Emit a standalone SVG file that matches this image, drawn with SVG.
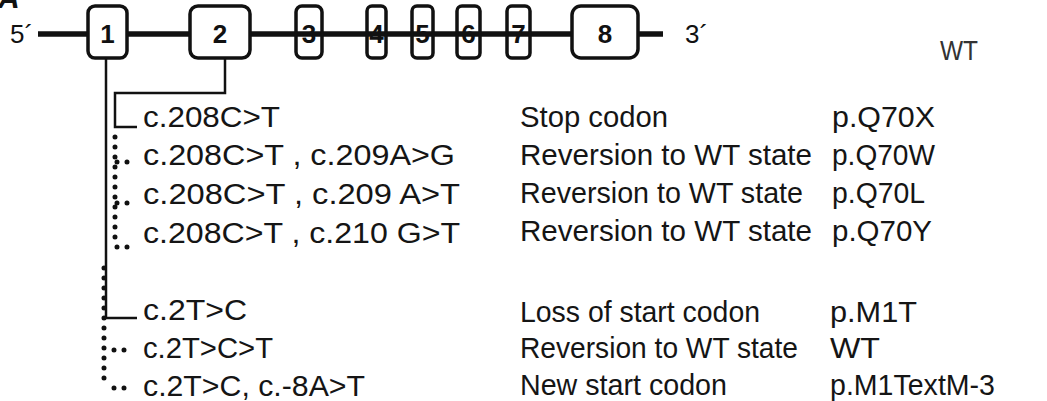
<svg xmlns="http://www.w3.org/2000/svg" width="1047" height="401" viewBox="0 0 1047 401">
<style>
  .t{font-family:"Liberation Sans",Arial,sans-serif;font-size:30px;fill:#151515}
  .num{font-family:"Liberation Sans",Arial,sans-serif;font-size:26px;font-weight:bold;fill:#111;text-anchor:middle}
  .end{font-family:"Liberation Sans",Arial,sans-serif;font-size:26px;fill:#111}
  .exon{stroke:#111;stroke-width:3.5;fill:#fff}
  .exon-n{stroke:#111;stroke-width:3.5;fill:none}
  .solid{stroke:#111;stroke-width:2.5;fill:none}
  .dots{stroke:#111;stroke-width:5;fill:none;stroke-linecap:round;stroke-dasharray:0 10}
</style>
<rect width="1047" height="401" fill="#fff"/>
<text x="-2" y="8" style="font-family:'Liberation Sans',Arial,sans-serif;font-size:30px;font-weight:bold;font-style:italic;fill:#111">A</text>
<text class="end" x="10" y="43">5´</text>
<text class="end" x="685" y="43">3´</text>
<line x1="38" y1="34" x2="663" y2="34" stroke="#111" stroke-width="5.5"/>
<g id="exon1"><rect class="exon" x="88" y="6" width="39" height="52" rx="7"/><text class="num" x="107.5" y="43">1</text></g>
<g id="exon2"><rect class="exon" x="190" y="6" width="60" height="52" rx="8"/><text class="num" x="220" y="43">2</text></g>
<g id="exon3"><rect class="exon-n" x="296" y="6" width="26" height="52" rx="6"/><text class="num" x="309" y="43">3</text></g>
<g id="exon4"><rect class="exon-n" x="367" y="6" width="19" height="52" rx="5"/><text class="num" x="376.5" y="43">4</text></g>
<g id="exon5"><rect class="exon-n" x="412" y="6" width="21" height="52" rx="5"/><text class="num" x="422.5" y="43">5</text></g>
<g id="exon6"><rect class="exon-n" x="457" y="6" width="23" height="52" rx="5"/><text class="num" x="468.5" y="43">6</text></g>
<g id="exon7"><rect class="exon-n" x="507" y="6" width="23" height="52" rx="5"/><text class="num" x="518.5" y="43">7</text></g>
<g id="exon8"><rect class="exon" x="572" y="6" width="66" height="52" rx="9"/><text class="num" x="605" y="43">8</text></g>
<text x="940" y="60" textLength="38" lengthAdjust="spacingAndGlyphs" style="font-family:'Liberation Sans',Arial,sans-serif;font-size:27px;fill:#333">WT</text>
<g id="connectors">
  <path class="solid" d="M225 58 V93 H115 V127 H137"/>
  <path class="dots" d="M115 137 V247"/>
  <path class="dots" d="M117 162 H137"/>
  <path class="dots" d="M117 203 H137"/>
  <path class="dots" d="M117 247 H137"/>
  <path class="solid" d="M106 58 V318 H137"/>
  <path class="dots" d="M104 268 V388"/>
  <path class="dots" d="M114 350 H134"/>
  <path class="dots" d="M114 388 H134"/>
</g>
<g id="mutations">
  <text class="t" x="143" y="127" textLength="137" lengthAdjust="spacingAndGlyphs">c.208C&gt;T</text>
  <text class="t" x="143" y="165" textLength="312" lengthAdjust="spacingAndGlyphs">c.208C&gt;T , c.209A&gt;G</text>
  <text class="t" x="143" y="204" textLength="317" lengthAdjust="spacingAndGlyphs">c.208C&gt;T , c.209 A&gt;T</text>
  <text class="t" x="143" y="243" textLength="317" lengthAdjust="spacingAndGlyphs">c.208C&gt;T , c.210 G&gt;T</text>
  <text class="t" x="143" y="320" textLength="104" lengthAdjust="spacingAndGlyphs">c.2T&gt;C</text>
  <text class="t" x="143" y="358" textLength="130" lengthAdjust="spacingAndGlyphs">c.2T&gt;C&gt;T</text>
  <text class="t" x="143" y="396" textLength="222" lengthAdjust="spacingAndGlyphs">c.2T&gt;C, c.-8A&gt;T</text>
</g>
<g id="effects">
  <text class="t" x="520" y="127" textLength="148" lengthAdjust="spacingAndGlyphs">Stop codon</text>
  <text class="t" x="520" y="165" textLength="292" lengthAdjust="spacingAndGlyphs">Reversion to WT state</text>
  <text class="t" x="520" y="203" textLength="283" lengthAdjust="spacingAndGlyphs">Reversion to WT state</text>
  <text class="t" x="520" y="241" textLength="292" lengthAdjust="spacingAndGlyphs">Reversion to WT state</text>
  <text class="t" x="520" y="322" textLength="240" lengthAdjust="spacingAndGlyphs">Loss of start codon</text>
  <text class="t" x="520" y="358" textLength="278" lengthAdjust="spacingAndGlyphs">Reversion to WT state</text>
  <text class="t" x="520" y="395" textLength="207" lengthAdjust="spacingAndGlyphs">New start codon</text>
</g>
<g id="proteins">
  <text class="t" x="832" y="127" textLength="103" lengthAdjust="spacingAndGlyphs">p.Q70X</text>
  <text class="t" x="832" y="165" textLength="103" lengthAdjust="spacingAndGlyphs">p.Q70W</text>
  <text class="t" x="832" y="203" textLength="93" lengthAdjust="spacingAndGlyphs">p.Q70L</text>
  <text class="t" x="832" y="241" textLength="100" lengthAdjust="spacingAndGlyphs">p.Q70Y</text>
  <text class="t" x="830" y="322" textLength="87" lengthAdjust="spacingAndGlyphs">p.M1T</text>
  <text class="t" x="830" y="358" textLength="50" lengthAdjust="spacingAndGlyphs">WT</text>
  <text class="t" x="830" y="395" textLength="165" lengthAdjust="spacingAndGlyphs">p.M1TextM-3</text>
</g>
</svg>
